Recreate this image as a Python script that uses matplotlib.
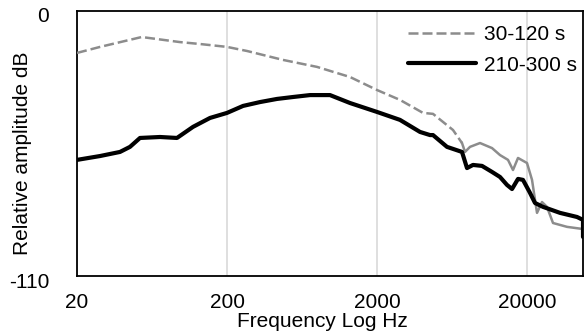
import matplotlib
matplotlib.use("Agg")
import matplotlib.pyplot as plt
from matplotlib.transforms import ScaledTranslation

plt.rcParams["font.family"] = ["Liberation Sans", "DejaVu Sans"]

# spectrum 30-120 s (grey, dashed)
freq_early = [20, 28.5, 54, 97, 132, 200, 272, 472, 796, 1322, 2000, 2846, 4052,
              4725, 6422, 7373, 7722, 8337, 9722, 11690, 13213, 14940, 16130,
              17420, 20000, 21600, 22620, 23320, 25180, 27180, 29810, 36960, 47240]
db_early = [-17.4, -14.9, -10.8, -12.9, -13.7, -14.9, -16.6, -20.3, -23.2, -27.4,
            -32.8, -36.9, -42.3, -42.7, -49.4, -54.8, -58.5, -56.4, -54.8, -56.9,
            -59.8, -61.8, -66.0, -61.0, -63.1, -70.1, -78.4, -83.8, -79.3, -81.3,
            -88.0, -89.6, -90.5]

# spectrum 210-300 s (black, solid)
freq_late = [20, 28.5, 38.7, 45.1, 52.6, 71.5, 92.8, 118.7, 154, 200, 256, 332,
             431, 551, 715, 972, 1322, 2000, 2846, 3870, 4512, 4725, 5856, 7373,
             7962, 8730, 10024, 11690, 13213, 14712, 15890, 17420, 18800, 20940,
             22620, 25570, 33200, 43090, 47240, 47240]
db_late = [-61.8, -60.2, -58.5, -56.4, -52.7, -52.3, -52.7, -48.1, -44.4, -42.3,
           -39.4, -37.8, -36.5, -35.7, -34.9, -34.9, -38.2, -41.9, -45.2, -50.2,
           -51.5, -51.5, -56.4, -58.5, -65.2, -63.9, -64.3, -66.8, -68.9, -72.2,
           -73.9, -69.7, -70.1, -75.5, -79.7, -81.3, -83.8, -85.5, -86.7, -93.8]

labels = ["30-120 s", "210-300 s"]
xticks = [20, 200, 2000, 20000]
yticks = [0, -110]

fig = plt.figure(figsize=(5.85, 3.33), dpi=100)
ax = fig.add_axes([77 / 585, 1 - 276 / 333, 506 / 585, 265 / 333])

# grey curve: dashed where smooth, solid where the data gets dense
split = 15
ax.plot(freq_early[:split + 1], db_early[:split + 1], color="#8c8c8c", lw=1.8,
        ls=(0, (4, 1.6)), label=labels[0], zorder=3)
ax.plot(freq_early[split:], db_early[split:], color="#8c8c8c", lw=1.8, zorder=3)
ax.plot(freq_late, db_late, color="black", lw=3, label=labels[1],
        solid_capstyle="round", solid_joinstyle="round", zorder=4)

ax.set_xscale("log")
ax.set_xlim(20, 47240)
ax.set_ylim(-110, 0)
ax.set_xticks(xticks)
ax.set_xticklabels([str(t) for t in xticks])
ax.minorticks_off()
ax.set_yticks(yticks)
ax.set_yticklabels([str(t) for t in yticks])
ax.tick_params(length=0, labelsize=15)
ax.tick_params(axis="x", pad=12)
ax.tick_params(axis="y", pad=20)
# excel puts the y labels a little below their value
for t in ax.get_yticklabels():
    t.set_transform(t.get_transform() + ScaledTranslation(0, -4 / 100, fig.dpi_scale_trans))

ax.grid(axis="x", color="#d9d9d9", lw=1.2, zorder=0)
for s in ax.spines.values():
    s.set_linewidth(1.3)
    s.set_color("black")

ax.set_xlabel("Frequency Log Hz", fontsize=15)
ax.xaxis.set_label_coords(0.485, -0.135)
ax.set_ylabel("Relative amplitude dB", fontsize=15)
ax.yaxis.set_label_coords(-0.088, 0.464)

ax.legend(loc="upper right", bbox_to_anchor=(1.0, 0.97), frameon=False,
          fontsize=15, handlelength=3.3, handletextpad=0.35, labelspacing=0.55,
          borderpad=0.1, borderaxespad=0.2)

fig.savefig("out.png", dpi=100)
